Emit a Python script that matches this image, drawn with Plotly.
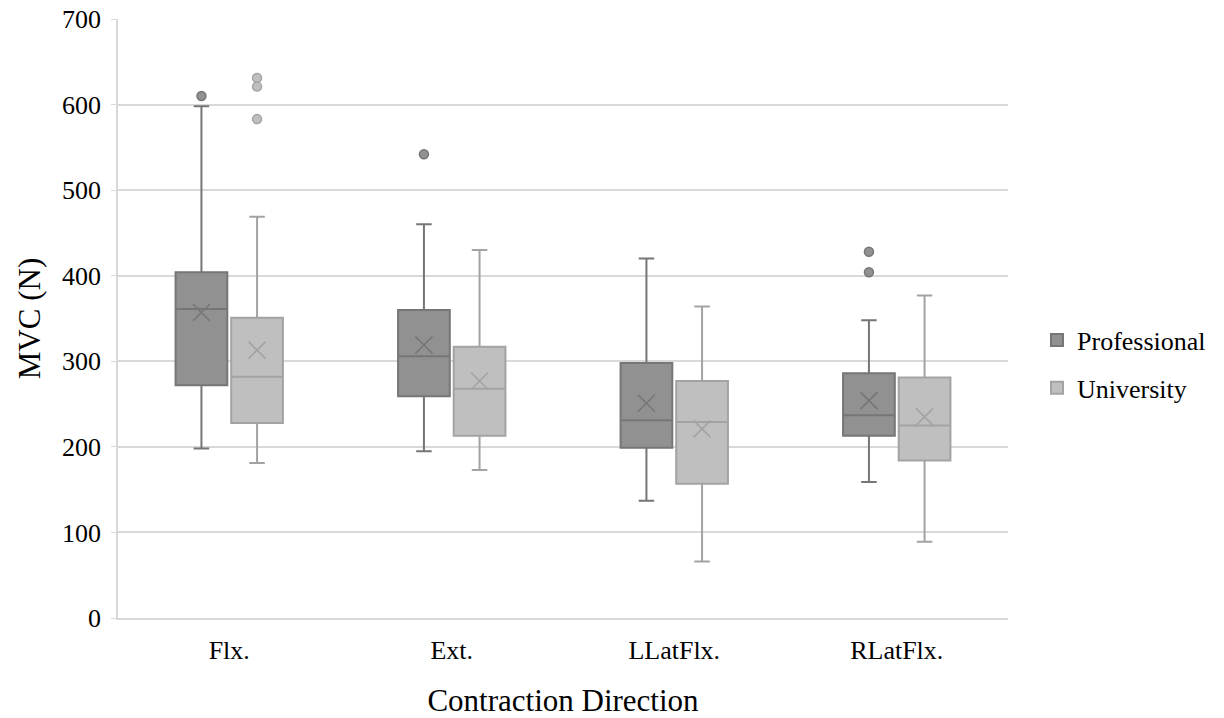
import plotly.graph_objects as go

categories = ["Flx.", "Ext.", "LLatFlx.", "RLatFlx."]

pro_q1 = [272, 259, 199, 213]
pro_median = [361, 306, 231, 237]
pro_q3 = [404, 360, 298, 286]
pro_lower = [198, 195, 137, 159]
pro_upper = [598, 460, 420, 348]
pro_mean = [357, 319, 251, 254]
pro_out_cat = ["Flx.", "Ext.", "RLatFlx.", "RLatFlx."]
pro_out_val = [610, 542, 428, 404]

uni_q1 = [228, 213, 157, 184]
uni_median = [282, 268, 229, 225]
uni_q3 = [351, 317, 277, 281]
uni_lower = [181, 173, 66, 89]
uni_upper = [469, 430, 364, 377]
uni_mean = [313, 277, 221, 235]
uni_out_cat = ["Flx.", "Flx.", "Flx."]
uni_out_val = [631, 621, 583]

PRO_FILL, PRO_LINE = "#919191", "#767676"
UNI_FILL, UNI_LINE = "#bfbfbf", "#a3a3a3"
FONT = "Liberation Serif, Times New Roman, serif"

fig = go.Figure()

series = [
    ("Professional", pro_q1, pro_median, pro_q3, pro_lower, pro_upper, pro_mean,
     pro_out_cat, pro_out_val, PRO_FILL, PRO_LINE),
    ("University", uni_q1, uni_median, uni_q3, uni_lower, uni_upper, uni_mean,
     uni_out_cat, uni_out_val, UNI_FILL, UNI_LINE),
]

for name, q1, med, q3, lo, up, mean, ocat, oval, fill, line in series:
    fig.add_trace(go.Box(
        name=name, x=categories, q1=q1, median=med, q3=q3,
        lowerfence=lo, upperfence=up, mean=mean, boxmean=False,
        boxpoints=False, fillcolor=fill, line=dict(color=line, width=2),
        whiskerwidth=0.3, offsetgroup=name, legendgroup=name,
        opacity=1,
    ))
    fig.add_trace(go.Scatter(
        x=categories, y=mean, mode="markers", offsetgroup=name,
        legendgroup=name, showlegend=False, hoverinfo="skip",
        marker=dict(symbol="x-thin", size=17, line=dict(color=line, width=1.6)),
    ))
    fig.add_trace(go.Scatter(
        x=ocat, y=oval, mode="markers", offsetgroup=name,
        legendgroup=name, showlegend=False, hoverinfo="skip",
        marker=dict(symbol="circle", size=9, color=fill, line=dict(color=line, width=1.5)),
    ))

fig.update_layout(
    width=1224, height=718,
    margin=dict(l=118, r=216, t=19, b=100),
    paper_bgcolor="white", plot_bgcolor="white",
    boxmode="group", boxgap=0.5, boxgroupgap=0.07,
    scattermode="group", scattergap=0.5,
    font=dict(family=FONT, size=26, color="#000000"),
    legend=dict(x=1.0326, y=0.424, xanchor="left", yanchor="middle",
                font=dict(size=26), tracegroupgap=11, itemwidth=30),
    xaxis=dict(
        type="category", categoryorder="array", categoryarray=categories,
        title=dict(text="Contraction Direction", font=dict(size=31), standoff=30),
        showline=True, linecolor="#d9d9d9", linewidth=1.5,
        showgrid=False, ticks="", tickfont=dict(size=26),
        ticklabelstandoff=8, automargin=False,
    ),
    yaxis=dict(
        range=[0, 700], dtick=100,
        title=dict(text="MVC (N)", font=dict(size=31), standoff=12),
        showgrid=True, gridcolor="#d9d9d9", gridwidth=1.5,
        showline=True, linecolor="#d9d9d9", linewidth=1.5,
        ticks="outside", ticklen=5, tickcolor="#d9d9d9",
        zeroline=False, tickfont=dict(size=26), ticklabelstandoff=5,
        ticklabeloverflow="allow", automargin=False,
    ),
)

fig.write_html(
    "out.html",
    config={"displayModeBar": False},
    post_script="document.body.style.margin='0';document.body.style.overflow='hidden';",
)
